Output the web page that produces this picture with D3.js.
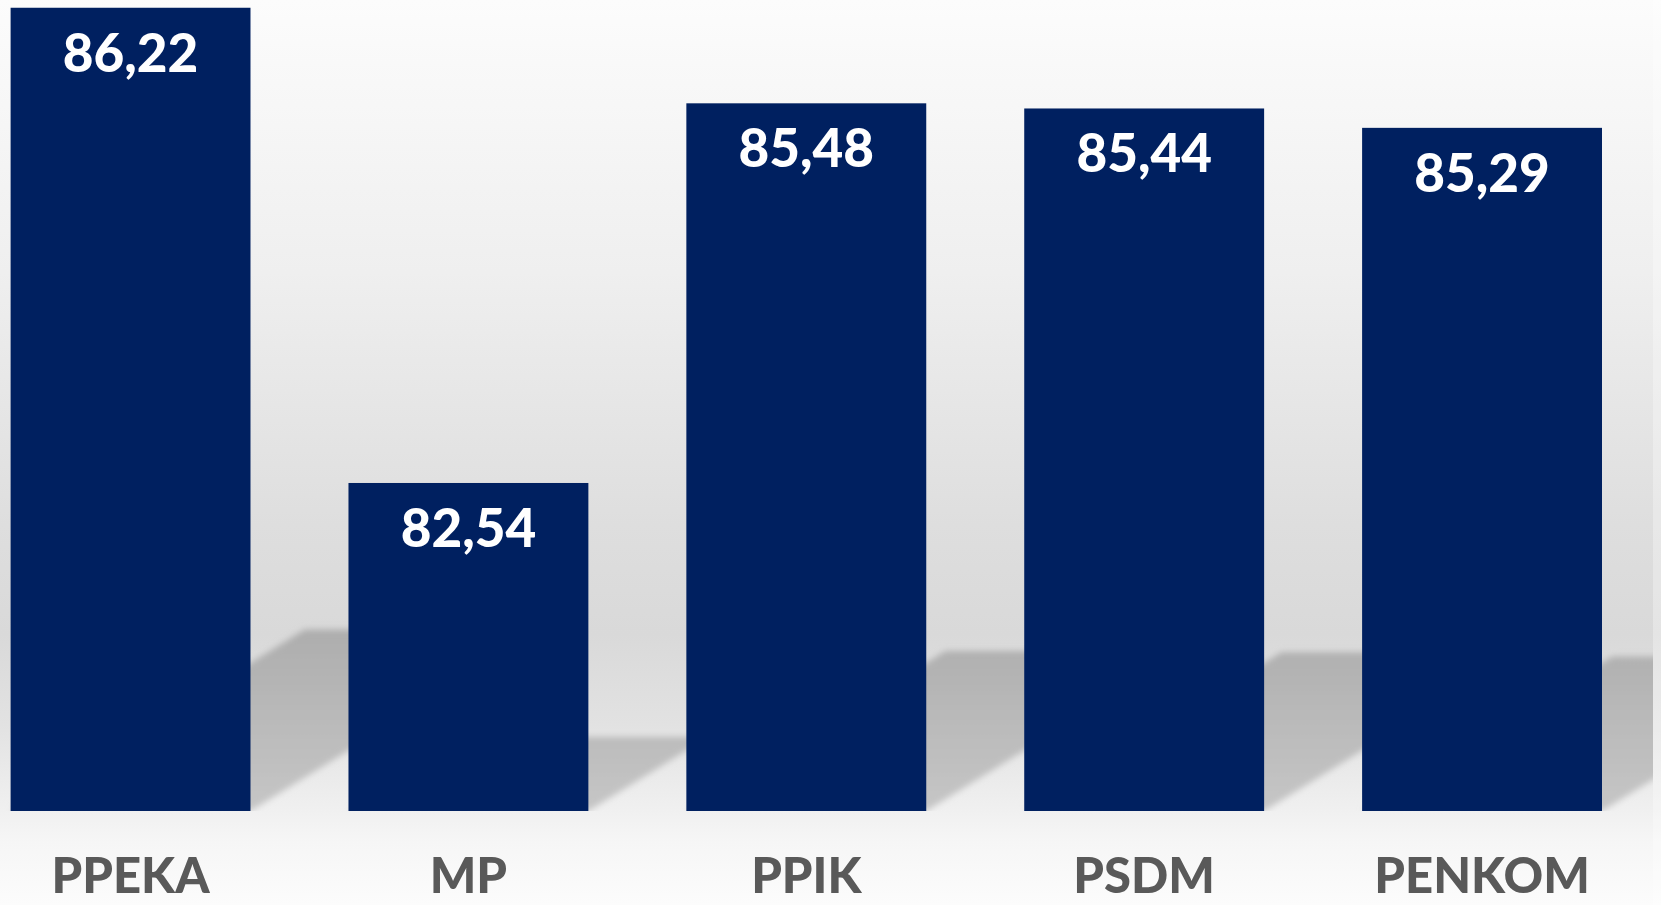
<!DOCTYPE html>
<html>
<head>
<meta charset="utf-8">
<script src="https://cdn.jsdelivr.net/npm/d3@7"></script>
<style>
  html, body { margin: 0; padding: 0; background: #ffffff; }
  svg { display: block; }
</style>
</head>
<body>
<div class="chart"></div>
<script>
// Parameters
const width = 1661;
const height = 905;
const margin = { top: 0, right: 59, bottom: 94, left: 10.6 };

// Data
const categories = ['PPEKA', 'MP', 'PPIK', 'PSDM', 'PENKOM'];
const values = [86.22, 82.54, 85.48, 85.44, 85.29];
const yDomain = [80, 86.28];

const barColor = '#002060';
const labelColor = '#595959';
const fontFamily = 'Lato, "Open Sans", sans-serif';

// shadow: squashed and skewed copy of each bar, cast behind it
const shadowScale = 0.226;
const shadowSkew = 1.62;
const clipRight = 1653;

const fmt = d3.formatLocale({ decimal: ',', thousands: '.', grouping: [3], currency: ['', ''] }).format('.2f');

function drawGraph() {
    const data = categories.map((c, i) => ({ name: c, value: values[i] }));

    const svg = d3.select('.chart')
        .append('svg')
        .attr('width', width)
        .attr('height', height);

    const defs = svg.append('defs');

    // background gradient (wall + floor)
    const bg = defs.append('linearGradient')
        .attr('id', 'bg')
        .attr('x1', 0).attr('y1', 0).attr('x2', 0).attr('y2', 1);
    [[0, '#fcfcfc'], [0.3, '#efefef'], [0.58, '#dedede'], [0.7, '#d9d9d9'],
     [0.8, '#e2e2e2'], [0.895, '#f0f0f0'], [0.93, '#f6f6f6'], [1, '#fcfcfc']]
        .forEach(s => bg.append('stop').attr('offset', s[0]).attr('stop-color', s[1]));

    const shadowGrad = defs.append('linearGradient')
        .attr('id', 'shadowGrad')
        .attr('gradientUnits', 'userSpaceOnUse')
        .attr('x1', 0).attr('y1', 620).attr('x2', 0).attr('y2', height - margin.bottom);
    shadowGrad.append('stop').attr('offset', 0).attr('stop-color', '#acacac');
    shadowGrad.append('stop').attr('offset', 1).attr('stop-color', '#c6c6c6');

    defs.append('filter')
        .attr('id', 'blur')
        .attr('x', '-10%').attr('y', '-10%').attr('width', '120%').attr('height', '120%')
        .append('feGaussianBlur')
        .attr('stdDeviation', 3);

    defs.append('clipPath')
        .attr('id', 'plotClip')
        .append('rect')
        .attr('x', 0).attr('y', 0)
        .attr('width', clipRight).attr('height', height - margin.bottom);

    svg.append('rect')
        .attr('width', width)
        .attr('height', height)
        .attr('fill', 'url(#bg)');

    // lighter strip beyond the plot area on the right
    svg.append('rect')
        .attr('x', clipRight)
        .attr('width', width - clipRight)
        .attr('height', height)
        .attr('fill', '#ffffff')
        .attr('opacity', 0.3);

    // Horizontal scale
    const scaleX = d3.scaleBand()
        .domain(categories)
        .range([margin.left, width - margin.right])
        .paddingInner(0.29)
        .paddingOuter(0);

    // Vertical scale
    const scaleY = d3.scaleLinear()
        .domain(yDomain)
        .range([height - margin.bottom, margin.top]);

    const base = scaleY(yDomain[0]);

    // shadows
    svg.append('g')
        .attr('clip-path', 'url(#plotClip)')
        .append('g')
        .attr('filter', 'url(#blur)')
        .selectAll('path')
        .data(data)
        .join('path')
        .attr('fill', 'url(#shadowGrad)')
        .attr('d', d => {
            const x0 = scaleX(d.name);
            const x1 = x0 + scaleX.bandwidth();
            const hk = (base - scaleY(d.value)) * shadowScale;
            const sh = hk * shadowSkew;
            const p = d3.path();
            p.moveTo(x0, base);
            p.lineTo(x1, base);
            p.lineTo(x1 + sh, base - hk);
            p.lineTo(x0 + sh, base - hk);
            p.closePath();
            return p.toString();
        });

    // bars
    svg.append('g')
        .selectAll('rect')
        .data(data)
        .join('rect')
        .attr('x', d => scaleX(d.name))
        .attr('y', d => scaleY(d.value))
        .attr('width', scaleX.bandwidth())
        .attr('height', d => base - scaleY(d.value))
        .attr('fill', barColor);

    // value labels
    svg.append('g')
        .attr('text-anchor', 'middle')
        .style('font-family', fontFamily)
        .style('font-weight', 900)
        .style('font-size', '53px')
        .style('fill', '#ffffff')
        .selectAll('text')
        .data(data)
        .join('text')
        .attr('x', d => scaleX(d.name) + scaleX.bandwidth() / 2)
        .attr('y', d => scaleY(d.value) + 64)
        .text(d => fmt(d.value));

    // category axis
    const axis = svg.append('g')
        .attr('transform', `translate(0, ${base})`)
        .call(d3.axisBottom(scaleX).tickSize(0).tickPadding(0));
    axis.select('.domain').remove();
    axis.selectAll('text')
        .attr('dy', null)
        .attr('y', 82)
        .style('font-family', fontFamily)
        .style('font-weight', 900)
        .style('font-size', '49px')
        .style('fill', labelColor);
}

drawGraph();
</script>
</body>
</html>
